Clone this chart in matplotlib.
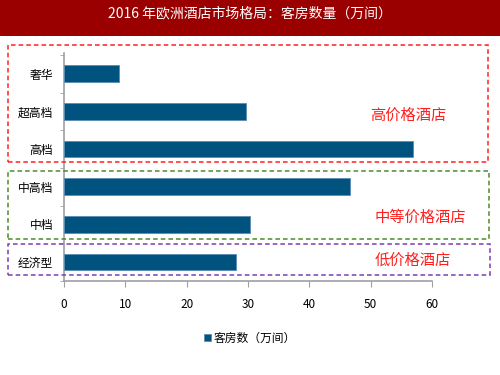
import matplotlib as mpl
mpl.use('Agg')
import matplotlib.pyplot as plt
from matplotlib.patches import Rectangle

plt.rcParams['font.family'] = ['Noto Sans CJK SC', 'DejaVu Sans']

categories = ['奢华', '超高档', '高档', '中高档', '中档', '经济型']
rooms = [9.0, 29.7, 56.9, 46.7, 30.3, 28.1]
xticks = [0, 10, 20, 30, 40, 50, 60]
title = '2016 年欧洲酒店市场格局：客房数量（万间）'
legend_label = '客房数（万间）'
groups = ['高价格酒店', '中等价格酒店', '低价格酒店']

W, H = 500, 375
fig = plt.figure(figsize=(5, 3.75), dpi=100)


def px(x0, y0, x1, y1):
    # pixel box (top-left origin) -> figure fraction rect
    return (x0 / W, 1 - y1 / H, (x1 - x0) / W, (y1 - y0) / H)


# title band
b = px(0, 0, 500, 36)
fig.patches.append(Rectangle(b[:2], b[2], b[3], transform=fig.transFigure,
                             facecolor='#9b0000', edgecolor='none', zorder=0))
fig.text(0.5, 1 - 13 / H, title, color='white', fontsize=10,
         ha='center', va='center')

ax = fig.add_axes([64 / W, 1 - 281 / H, (432 - 64) / W, (281 - 53) / H])
y = range(len(categories))
bars = ax.barh(y, rooms, height=0.44, color='#00527f', edgecolor='#5b8db3',
               linewidth=0.6, label=legend_label, zorder=3)
ax.set_ylim(5.5, -0.55)
ax.set_xlim(0, 60)
ax.set_xticks(xticks)
ax.set_yticks(list(y))
ax.set_yticklabels(categories)
ax.set_yticks([i + 0.5 for i in range(-1, len(categories))], minor=True)
ax.tick_params(axis='y', which='major', length=0, pad=8, labelsize=8.5)
ax.tick_params(axis='y', which='minor', length=3, color='#a0a0a0')
ax.tick_params(axis='x', length=4, color='#a0a0a0', labelsize=8.5, pad=8)
for s in ['top', 'right']:
    ax.spines[s].set_visible(False)
for s in ['left', 'bottom']:
    ax.spines[s].set_color('#a0a0a0')
    ax.spines[s].set_linewidth(1.2)

# dashed group boxes
boxes = [((8, 45, 488, 162), '#ff2020'),
         ((8, 171, 489, 239), '#4e8a2a'),
         ((8, 244, 490, 275), '#7b3fb5')]
for (x0, y0, x1, y1), c in boxes:
    r = px(x0, y0, x1, y1)
    fig.patches.append(Rectangle(r[:2], r[2], r[3], transform=fig.transFigure,
                                 fill=False, edgecolor=c, linestyle=(0, (3, 2)),
                                 linewidth=1.1, zorder=5))

label_pos = [(408, 115), (420, 217), (413, 260)]
for g, (lx, ly) in zip(groups, label_pos):
    fig.text(lx / W, 1 - ly / H, g, color='#ff2020', fontsize=11,
             ha='center', va='center')

fig.legend(handles=[bars], labels=[legend_label], loc='center',
           bbox_to_anchor=(250 / W, 1 - 338 / H), frameon=False,
           fontsize=8.5, handlelength=0.6, handleheight=0.6, handletextpad=0.2)

fig.savefig('out.png', dpi=100)
